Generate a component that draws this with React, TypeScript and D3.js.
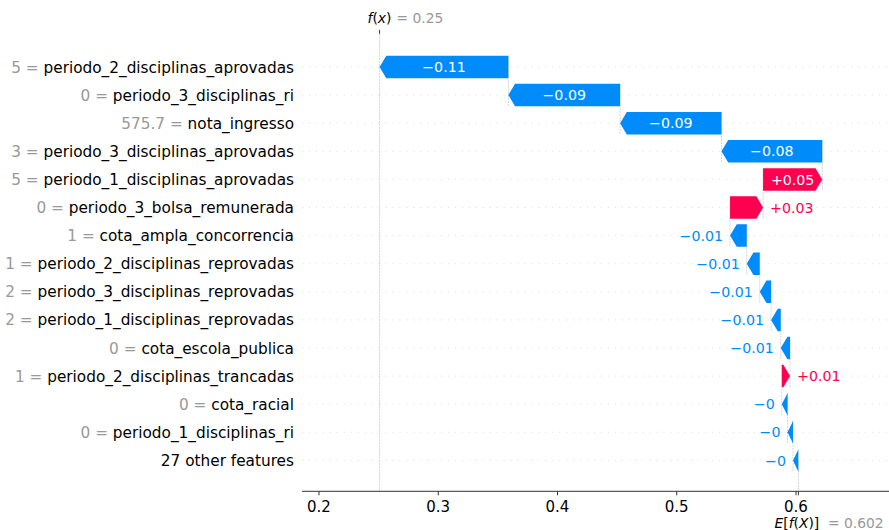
import React from "react";
import * as d3 from "d3";

const featureNames = [
  "periodo_2_disciplinas_aprovadas",
  "periodo_3_disciplinas_ri",
  "nota_ingresso",
  "periodo_3_disciplinas_aprovadas",
  "periodo_1_disciplinas_aprovadas",
  "periodo_3_bolsa_remunerada",
  "cota_ampla_concorrencia",
  "periodo_2_disciplinas_reprovadas",
  "periodo_3_disciplinas_reprovadas",
  "periodo_1_disciplinas_reprovadas",
  "cota_escola_publica",
  "periodo_2_disciplinas_trancadas",
  "cota_racial",
  "periodo_1_disciplinas_ri",
  "27 other features",
];
const featureValues = ["5", "0", "575.7", "3", "5", "0", "1", "1", "2", "2", "0", "1", "0", "0", ""];
const shapValues = [
  -0.108, -0.0937, -0.085, -0.0845, 0.0496, 0.0277, -0.014, -0.0109, -0.0095, -0.0081,
  -0.0078, 0.0069, -0.0048, -0.0046, -0.0045,
];
const baseValue = 0.602;
const xTicks = [0.2, 0.3, 0.4, 0.5, 0.6];

const POS = "#ff0051";
const NEG = "#008bfb";
const FONT = "DejaVu Sans, sans-serif";

function fmtShap(v: number) {
  let s = Math.abs(v).toFixed(2);
  s = s.replace(/0+$/, "").replace(/\.$/, "");
  return (v < 0 ? "\u2212" : "+") + s;
}

export default function App() {
  const W = 889, H = 530;
  const x = d3.scaleLinear().domain([0.2, 0.6]).range([319, 796]);
  const y = d3.scaleLinear().domain([0, 14]).range([67, 460.4]);
  const rowH = y(1) - y(0);
  const barH = rowH * 0.8;
  const axTop = y(-1.18);
  const axBottom = y(15.1);
  const axLeft = 302;
  const fx = baseValue + d3.sum(shapValues);

  const bars: { tip: number; tail: number; v: number }[] = [];
  let loc = fx;
  shapValues.forEach((v) => {
    const start = loc;
    loc -= v;
    bars.push({ tip: start, tail: loc, v });
  });

  const barFont = 14.2;
  const hlMax = 6.7;

  return (
    <svg width={W} height={H} style={{ position: "absolute", left: 0, top: 0, fontFamily: FONT }}>
      <rect width={W} height={H} fill="#fff" />
      {featureNames.map((_, i) => (
        <line key={"h" + i} x1={axLeft} x2={W} y1={y(i)} y2={y(i)} stroke="#cccccc" strokeWidth={0.6} strokeDasharray="1.15,5.8" />
      ))}
      <line x1={x(fx)} x2={x(fx)} y1={axTop} y2={axBottom} stroke="#bbbbbb" strokeWidth={0.6} strokeDasharray="2.1,0.9" />
      <line x1={x(baseValue)} x2={x(baseValue)} y1={axBottom - (axBottom - axTop) / 15} y2={axBottom} stroke="#bbbbbb" strokeWidth={0.6} strokeDasharray="2.1,0.9" />
      {bars.slice(0, -1).map((b, i) => (
        <line key={"c" + i} x1={x(b.tail)} x2={x(b.tail)} y1={y(i) - barH / 2} y2={y(i + 1) + barH / 2} stroke="#bbbbbb" strokeWidth={0.6} strokeDasharray="2.1,0.9" />
      ))}
      {bars.map((b, i) => {
        const tipX = x(b.tip), tailX = x(b.tail);
        const dir = Math.sign(tipX - tailX);
        const len = Math.abs(tipX - tailX);
        const hl = Math.min(len, hlMax);
        const yc = y(i);
        const pts = [
          [tailX, yc - barH / 2],
          [tipX - dir * hl, yc - barH / 2],
          [tipX, yc],
          [tipX - dir * hl, yc + barH / 2],
          [tailX, yc + barH / 2],
        ];
        const color = b.v > 0 ? POS : NEG;
        const label = fmtShap(b.v);
        const estW = label.length * 0.6 * barFont;
        const inside = estW + 4 < len;
        let tx: number, anchor: string, fill: string;
        if (inside) {
          tx = (tipX + tailX) / 2; anchor = "middle"; fill = "#fff";
        } else if (b.v > 0) {
          tx = Math.max(tipX, tailX) + 7; anchor = "start"; fill = color;
        } else {
          tx = Math.min(tipX, tailX) - 7; anchor = "end"; fill = color;
        }
        return (
          <g key={"b" + i}>
            <polygon points={pts.map((p) => p.join(",")).join(" ")} fill={color} />
            <text x={tx} y={yc} dy="0.36em" textAnchor={anchor} fill={fill} fontSize={barFont}>{label}</text>
          </g>
        );
      })}
      {featureNames.map((name, i) => (
        <text key={"y" + i} x={294} y={y(i)} dy="0.36em" textAnchor="end" fontSize={15.3} style={{ whiteSpace: "pre" }}>
          {featureValues[i] !== "" && <tspan fill="#999999">{featureValues[i] + " = "}</tspan>}
          <tspan fill="#000">{name}</tspan>
        </text>
      ))}
      <line x1={axLeft} x2={W} y1={axBottom} y2={axBottom} stroke="#333333" strokeWidth={1} />
      {xTicks.map((t) => (
        <g key={"t" + t}>
          <line x1={x(t)} x2={x(t)} y1={axBottom} y2={axBottom + 4} stroke="#333333" strokeWidth={1} />
          <text x={x(t)} y={axBottom + 20.5} textAnchor="middle" fontSize={15} fill="#000">{t.toFixed(1)}</text>
        </g>
      ))}
      <line x1={x(baseValue)} x2={x(baseValue)} y1={axBottom} y2={axBottom + 4} stroke="#333333" strokeWidth={1} />
      <text x={774.5} y={528} fontSize={13.85} fill="#000" style={{ whiteSpace: "pre" }}>
        <tspan fontStyle="italic">E</tspan><tspan>[</tspan><tspan fontStyle="italic">f</tspan><tspan>(</tspan><tspan fontStyle="italic">X</tspan><tspan>)]</tspan>
      </text>
      <text x={828} y={528} fontSize={13.85} fill="#999999">{"= " + baseValue.toFixed(3)}</text>
      <line x1={x(fx)} x2={x(fx)} y1={axTop} y2={axTop - 4} stroke="#333333" strokeWidth={1} />
      <text x={367.5} y={23} fontSize={13.85} fill="#000">
        <tspan fontStyle="italic">f</tspan><tspan>(</tspan><tspan fontStyle="italic">x</tspan><tspan>)</tspan>
      </text>
      <text x={396.5} y={23} fontSize={13.85} fill="#999999">{"= " + fx.toFixed(2)}</text>
    </svg>
  );
}
